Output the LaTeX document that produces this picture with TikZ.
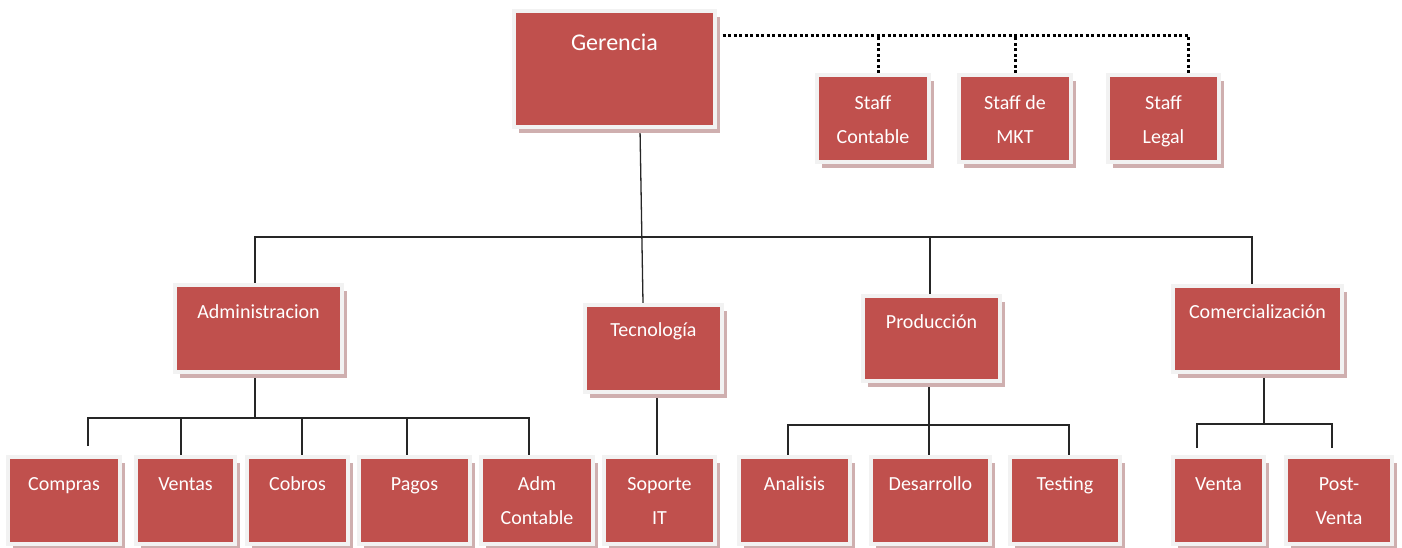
\documentclass[tikz,border=0pt]{standalone}
\usepackage{fontspec}
\setmainfont{Carlito}
\usetikzlibrary{shadows,backgrounds,calc}
\definecolor{boxred}{HTML}{C0504D}
\definecolor{framegray}{HTML}{F2F2F2}
\definecolor{shadowc}{HTML}{CFAFAF}
\tikzset{
 orgbox/.style={rectangle, fill=boxred, draw=framegray, line width=4pt, inner sep=0pt,
   drop shadow={shadow xshift=4.5pt, shadow yshift=-6pt, fill=shadowc, opacity=1}},
 boxtext/.style={text=white, font=\fontsize{20pt}{34pt}\selectfont, align=center, inner sep=0pt, anchor=base},
 bigtext/.style={boxtext, font=\fontsize{24pt}{30pt}\selectfont},
 conn/.style={line width=1.3pt, draw=black!85},
 staffline/.style={line width=3pt, dash pattern=on 3pt off 2.5pt, draw=black},
}
\begin{document}
\begin{tikzpicture}[x=1pt,y=-1pt]
\useasboundingbox (0,0) rectangle (1402,547);
% top
\node[orgbox, minimum width=201pt, minimum height=116pt] (ger) at (614.5,69) {};
\node[bigtext] (gert) at ([yshift=-41pt]ger.north) {Gerencia};
% staff (base anchor = last line baseline)
\node[orgbox, minimum width=112pt, minimum height=87pt] (sc) at (873,118.5) {};
\node[boxtext] (sct) at ([yshift=-70pt]sc.north) {Staff\\Contable};
\node[orgbox, minimum width=112pt, minimum height=87pt] (smk) at (1015,118.5) {};
\node[boxtext] (smkt) at ([yshift=-70pt]smk.north) {Staff de\\MKT};
\node[orgbox, minimum width=111pt, minimum height=87pt] (sl) at (1163.5,118.5) {};
\node[boxtext] (slt) at ([yshift=-70pt]sl.north) {Staff\\Legal};
% level 2
\node[orgbox, minimum width=167pt, minimum height=87pt] (adm) at (258.5,328.5) {};
\node[boxtext] (admt) at ([yshift=-35pt]adm.north) {Administracion};
\node[orgbox, minimum width=137pt, minimum height=87pt] (tec) at (653.5,348.5) {};
\node[boxtext] (tect) at ([yshift=-33pt]tec.north) {Tecnología};
\node[orgbox, minimum width=137pt, minimum height=85pt] (pro) at (931.5,338.5) {};
\node[boxtext] (prot) at ([yshift=-34pt]pro.north) {Producción};
\node[orgbox, minimum width=169pt, minimum height=86pt] (com) at (1257.5,329) {};
\node[boxtext] (comt) at ([yshift=-34pt]com.north) {Comercialización};
% level 3
\node[orgbox, minimum width=112pt, minimum height=87pt] (cmp) at (64,500.5) {};
\node[boxtext] (cmpt) at ([yshift=-35pt]cmp.north) {Compras};
\node[orgbox, minimum width=99pt, minimum height=87pt] (ven) at (185.5,500.5) {};
\node[boxtext] (vent) at ([yshift=-35pt]ven.north) {Ventas};
\node[orgbox, minimum width=101pt, minimum height=87pt] (cob) at (297.5,500.5) {};
\node[boxtext] (cobt) at ([yshift=-35pt]cob.north) {Cobros};
\node[orgbox, minimum width=111pt, minimum height=87pt] (pag) at (414.5,500.5) {};
\node[boxtext] (pagt) at ([yshift=-35pt]pag.north) {Pagos};
\node[orgbox, minimum width=112pt, minimum height=87pt] (adc) at (537,500.5) {};
\node[boxtext] (adct) at ([yshift=-69pt]adc.north) {Adm\\Contable};
\node[orgbox, minimum width=111pt, minimum height=87pt] (sop) at (659.5,500.5) {};
\node[boxtext] (sopt) at ([yshift=-69pt]sop.north) {Soporte\\IT};
\node[orgbox, minimum width=111pt, minimum height=87pt] (ana) at (794.5,500.5) {};
\node[boxtext] (anat) at ([yshift=-35pt]ana.north) {Analisis};
\node[orgbox, minimum width=119pt, minimum height=87pt] (des) at (930.5,500.5) {};
\node[boxtext] (dest) at ([yshift=-35pt]des.north) {Desarrollo};
\node[orgbox, minimum width=110pt, minimum height=87pt] (tst) at (1065,500.5) {};
\node[boxtext] (tstt) at ([yshift=-35pt]tst.north) {Testing};
\node[orgbox, minimum width=91pt, minimum height=87pt] (vta) at (1218.5,500.5) {};
\node[boxtext] (vtat) at ([yshift=-35pt]vta.north) {Venta};
\node[orgbox, minimum width=106pt, minimum height=87pt] (pvt) at (1339,500.5) {};
\node[boxtext] (pvtt) at ([yshift=-69pt]pvt.north) {Post-\\Venta};
% connectors
\begin{scope}[on background layer]
\coordinate (bus) at (640,237);
\draw[conn] ([xshift=25.5pt]ger.south) -- ([xshift=-10.5pt]tec.north);
\draw[conn] ([xshift=-3.5pt]adm.north) |- (bus);
\draw[conn] ([xshift=-1.5pt]pro.north) |- (bus);
\draw[conn] ([xshift=-5.5pt]com.north) |- (bus);
\coordinate (admbus) at (255,418);
\draw[conn] ([xshift=-3.5pt]adm.south) -- (admbus);
\draw[conn] ([xshift=24pt,yshift=9pt]cmp.north) |- (admbus);
\draw[conn] ([xshift=-4.5pt]ven.north) |- (admbus);
\draw[conn] ([xshift=4.5pt]cob.north) |- (admbus);
\draw[conn] ([xshift=-7.5pt]pag.north) |- (admbus);
\draw[conn] ([xshift=-8pt]adc.north) |- (admbus);
\draw[conn] ([xshift=3.5pt]tec.south) -- ([xshift=-2.5pt]sop.north);
\coordinate (probus) at (929,425);
\draw[conn] ([xshift=-2.5pt]pro.south) -- ([xshift=-1.5pt]des.north);
\draw[conn] ([xshift=-6.5pt]ana.north) |- (probus);
\draw[conn] ([xshift=4pt]tst.north) |- (probus);
\coordinate (combus) at (1264,424);
\draw[conn] ([xshift=6.5pt]com.south) -- (combus);
\draw[conn] ([xshift=-21.5pt,yshift=7pt]vta.north) |- (combus);
\draw[conn] ([xshift=-7pt,yshift=7pt]pvt.north) |- (combus);
% staff dotted
\coordinate (stf) at (1188,35);
\draw[staffline] ([yshift=34pt]ger.east) -| ([xshift=24.5pt]sl.north);
\path ([xshift=5pt]sc.north) coordinate (scTop);
\path (smk.north) coordinate (smkTop);
\draw[staffline] (scTop) -- (scTop |- stf);
\draw[staffline] (smkTop) -- (smkTop |- stf);
\end{scope}
\end{tikzpicture}
\end{document}
